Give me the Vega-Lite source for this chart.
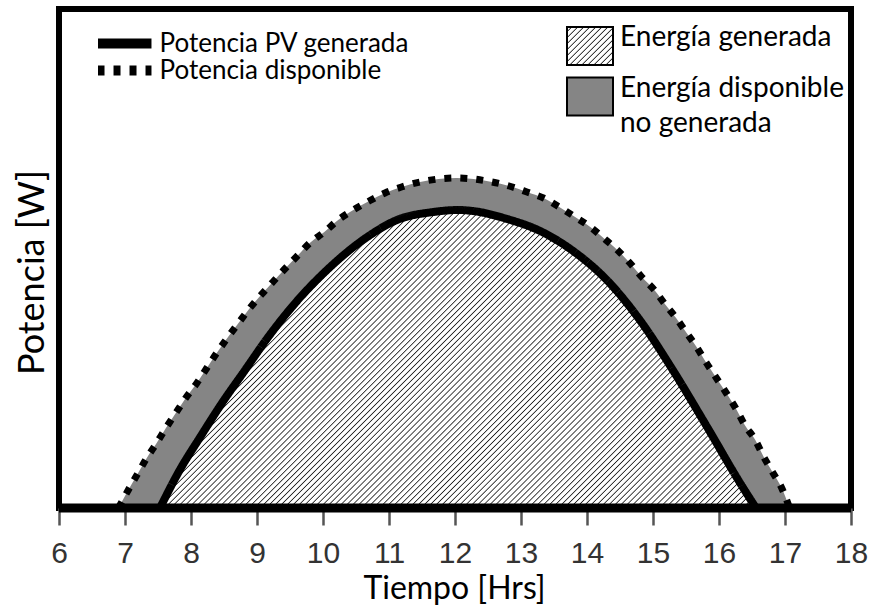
{
"$schema": "https://vega.github.io/schema/vega-lite/v6.json",
"width": 792,
"height": 499,
"autosize": {"type": "none"},
"padding": {"left": 59, "top": 9, "right": 21, "bottom": 99},
"background": "white",
"config": {"view": {"stroke": "#000", "strokeWidth": 6, "fill": "white"}, "style": {"guide-label": {"lineHeight": 35}}},
"datasets": {
"gen": [{"h":7.53,"p":0},{"h":7.83,"p":38},{"h":8.14,"p":71},{"h":8.47,"p":105},{"h":8.82,"p":138},{"h":9.17,"p":171},{"h":9.58,"p":205},{"h":10.06,"p":238},{"h":10.67,"p":271},{"h":11.12,"p":288},{"h":11.67,"p":296},{"h":12.05,"p":298},{"h":12.27,"p":297},{"h":12.79,"p":289},{"h":13.29,"p":277},{"h":13.79,"p":257},{"h":14.3,"p":228},{"h":14.8,"p":188},{"h":15.3,"p":138},{"h":15.82,"p":81},{"h":16.32,"p":25},{"h":16.56,"p":0}],
"avail": [{"h":6.9,"p":0},{"h":7.05,"p":18},{"h":7.19,"p":34},{"h":7.33,"p":50},{"h":7.48,"p":65},{"h":7.62,"p":80},{"h":7.77,"p":95},{"h":7.92,"p":110},{"h":8.09,"p":125},{"h":8.24,"p":140},{"h":8.39,"p":155},{"h":8.55,"p":170},{"h":8.72,"p":185},{"h":8.88,"p":199},{"h":9.06,"p":213},{"h":9.24,"p":226},{"h":9.42,"p":239},{"h":9.61,"p":252},{"h":9.8,"p":265},{"h":10.02,"p":276},{"h":10.23,"p":288},{"h":10.46,"p":298},{"h":10.7,"p":307},{"h":10.94,"p":315},{"h":11.19,"p":321},{"h":11.47,"p":326},{"h":11.75,"p":329},{"h":12.02,"p":330},{"h":12.28,"p":329},{"h":12.56,"p":326},{"h":12.82,"p":322},{"h":13.09,"p":316},{"h":13.34,"p":310},{"h":13.58,"p":301},{"h":13.82,"p":291},{"h":14.05,"p":281},{"h":14.25,"p":270},{"h":14.46,"p":258},{"h":14.65,"p":245},{"h":14.83,"p":231},{"h":15.02,"p":218},{"h":15.18,"p":204},{"h":15.35,"p":190},{"h":15.51,"p":175},{"h":15.67,"p":160},{"h":15.81,"p":145},{"h":15.96,"p":130},{"h":16.11,"p":115},{"h":16.26,"p":99},{"h":16.39,"p":83},{"h":16.55,"p":68},{"h":16.67,"p":52},{"h":16.81,"p":36},{"h":16.95,"p":20},{"h":17.07,"p":0}]
},
"layer": [
{
"data": {"name": "avail"},
"mark": {"type": "area", "interpolate": "monotone", "opacity": 1},
"encoding": {
"x": {"field": "h", "type": "quantitative", "scale": {"domain": [6, 18], "nice": false, "zero": false},
"axis": {"values": [6,7,8,9,10,11,12,13,14,15,16,17,18], "format": "d", "labelFont": "Liberation Sans", "labelFontSize": 30, "labelColor": "#333", "tickColor": "#555", "tickWidth": 2.5, "tickSize": 17, "labelPadding": 13, "domain": false, "grid": false, "labelFlush": false, "labelOverlap": false, "title": "Tiempo [Hrs]", "titleFont": "Lato", "titleFontSize": 32, "titleFontWeight": "normal", "titleColor": "#000", "titleY": 90, "titleX": 395, "titleBaseline": "alphabetic"}},
"y": {"field": "p", "type": "quantitative", "scale": {"domain": [0, 499], "nice": false},
"axis": {"title": "Potencia [W]", "labels": false, "ticks": false, "domain": false, "grid": false, "titleFont": "Lato", "titleFontSize": 36, "titleFontWeight": "normal", "titleColor": "#000", "titleX": -16, "titleY": 263, "titleAngle": 270, "titleBaseline": "alphabetic", "titleAlign": "center"}},
"fill": {"datum": "Energía disponible no generada", "type": "nominal",
"scale": {"domain": ["Energía generada", "Energía disponible no generada"], "range": [{"expr": "{gradient: 'linear', x1: 0, y1: 0, x2: 1.085, y2: 0.9, stops: [{offset: 0, color: '#fff'}, {offset: 0.0429, color: '#fff'}, {offset: 0.0571, color: '#222'}, {offset: 0.0714, color: '#fff'}, {offset: 0.1143, color: '#fff'}, {offset: 0.1286, color: '#222'}, {offset: 0.1429, color: '#fff'}, {offset: 0.1857, color: '#fff'}, {offset: 0.2, color: '#222'}, {offset: 0.2143, color: '#fff'}, {offset: 0.2571, color: '#fff'}, {offset: 0.2714, color: '#222'}, {offset: 0.2857, color: '#fff'}, {offset: 0.3286, color: '#fff'}, {offset: 0.3429, color: '#222'}, {offset: 0.3571, color: '#fff'}, {offset: 0.4, color: '#fff'}, {offset: 0.4143, color: '#222'}, {offset: 0.4286, color: '#fff'}, {offset: 0.4714, color: '#fff'}, {offset: 0.4857, color: '#222'}, {offset: 0.5, color: '#fff'}, {offset: 0.5429, color: '#fff'}, {offset: 0.5571, color: '#222'}, {offset: 0.5714, color: '#fff'}, {offset: 0.6143, color: '#fff'}, {offset: 0.6286, color: '#222'}, {offset: 0.6429, color: '#fff'}, {offset: 0.6857, color: '#fff'}, {offset: 0.7, color: '#222'}, {offset: 0.7143, color: '#fff'}, {offset: 0.7571, color: '#fff'}, {offset: 0.7714, color: '#222'}, {offset: 0.7857, color: '#fff'}, {offset: 0.8286, color: '#fff'}, {offset: 0.8429, color: '#222'}, {offset: 0.8571, color: '#fff'}, {offset: 0.9, color: '#fff'}, {offset: 0.9143, color: '#222'}, {offset: 0.9286, color: '#fff'}, {offset: 0.9714, color: '#fff'}, {offset: 0.9857, color: '#222'}, {offset: 1, color: '#fff'}]}"}, "#858585"]},
"legend": {"orient": "none", "legendX": 508, "legendY": 23, "title": null, "padding": 0, "labelFont": "Lato", "labelFontSize": 28, "labelColor": "#000", "labelOffset": 16, "labelLimit": 400, "labelBaseline": "alphabetic",
"symbolType": "M-4.6,-3.8H4.6V3.8H-4.6Z", "symbolSize": 100, "symbolStrokeWidth": 2, "symbolStrokeColor": "#000", "symbolOffset": 9, "rowPadding": 4.5, "symbolOpacity": 1,
"labelExpr": "datum.label == 'Energía disponible no generada' ? ['Energía disponible', 'no generada'] : datum.label"}
}
}
},
{
"data": {"name": "gen"},
"mark": {"type": "area", "interpolate": "monotone", "opacity": 1,
"fill": {"gradient": "linear", "x1": 0, "y1": 0, "x2": 1.2, "y2": 0.6, "stops": [
{"offset":0,"color":"#fff"},{"offset":0.004,"color":"#fff"},{"offset":0.0053,"color":"#222"},{"offset":0.0067,"color":"#fff"},{"offset":0.0107,"color":"#fff"},{"offset":0.012,"color":"#222"},{"offset":0.0133,"color":"#fff"},{"offset":0.0173,"color":"#fff"},{"offset":0.0187,"color":"#222"},
{"offset":0.02,"color":"#fff"},{"offset":0.024,"color":"#fff"},{"offset":0.0253,"color":"#222"},{"offset":0.0267,"color":"#fff"},{"offset":0.0307,"color":"#fff"},{"offset":0.032,"color":"#222"},{"offset":0.0333,"color":"#fff"},{"offset":0.0373,"color":"#fff"},{"offset":0.0387,"color":"#222"},
{"offset":0.04,"color":"#fff"},{"offset":0.044,"color":"#fff"},{"offset":0.0453,"color":"#222"},{"offset":0.0467,"color":"#fff"},{"offset":0.0507,"color":"#fff"},{"offset":0.052,"color":"#222"},{"offset":0.0533,"color":"#fff"},{"offset":0.0573,"color":"#fff"},{"offset":0.0587,"color":"#222"},
{"offset":0.06,"color":"#fff"},{"offset":0.064,"color":"#fff"},{"offset":0.0653,"color":"#222"},{"offset":0.0667,"color":"#fff"},{"offset":0.0707,"color":"#fff"},{"offset":0.072,"color":"#222"},{"offset":0.0733,"color":"#fff"},{"offset":0.0773,"color":"#fff"},{"offset":0.0787,"color":"#222"},
{"offset":0.08,"color":"#fff"},{"offset":0.084,"color":"#fff"},{"offset":0.0853,"color":"#222"},{"offset":0.0867,"color":"#fff"},{"offset":0.0907,"color":"#fff"},{"offset":0.092,"color":"#222"},{"offset":0.0933,"color":"#fff"},{"offset":0.0973,"color":"#fff"},{"offset":0.0987,"color":"#222"},
{"offset":0.1,"color":"#fff"},{"offset":0.104,"color":"#fff"},{"offset":0.1053,"color":"#222"},{"offset":0.1067,"color":"#fff"},{"offset":0.1107,"color":"#fff"},{"offset":0.112,"color":"#222"},{"offset":0.1133,"color":"#fff"},{"offset":0.1173,"color":"#fff"},{"offset":0.1187,"color":"#222"},
{"offset":0.12,"color":"#fff"},{"offset":0.124,"color":"#fff"},{"offset":0.1253,"color":"#222"},{"offset":0.1267,"color":"#fff"},{"offset":0.1307,"color":"#fff"},{"offset":0.132,"color":"#222"},{"offset":0.1333,"color":"#fff"},{"offset":0.1373,"color":"#fff"},{"offset":0.1387,"color":"#222"},
{"offset":0.14,"color":"#fff"},{"offset":0.144,"color":"#fff"},{"offset":0.1453,"color":"#222"},{"offset":0.1467,"color":"#fff"},{"offset":0.1507,"color":"#fff"},{"offset":0.152,"color":"#222"},{"offset":0.1533,"color":"#fff"},{"offset":0.1573,"color":"#fff"},{"offset":0.1587,"color":"#222"},
{"offset":0.16,"color":"#fff"},{"offset":0.164,"color":"#fff"},{"offset":0.1653,"color":"#222"},{"offset":0.1667,"color":"#fff"},{"offset":0.1707,"color":"#fff"},{"offset":0.172,"color":"#222"},{"offset":0.1733,"color":"#fff"},{"offset":0.1773,"color":"#fff"},{"offset":0.1787,"color":"#222"},
{"offset":0.18,"color":"#fff"},{"offset":0.184,"color":"#fff"},{"offset":0.1853,"color":"#222"},{"offset":0.1867,"color":"#fff"},{"offset":0.1907,"color":"#fff"},{"offset":0.192,"color":"#222"},{"offset":0.1933,"color":"#fff"},{"offset":0.1973,"color":"#fff"},{"offset":0.1987,"color":"#222"},
{"offset":0.2,"color":"#fff"},{"offset":0.204,"color":"#fff"},{"offset":0.2053,"color":"#222"},{"offset":0.2067,"color":"#fff"},{"offset":0.2107,"color":"#fff"},{"offset":0.212,"color":"#222"},{"offset":0.2133,"color":"#fff"},{"offset":0.2173,"color":"#fff"},{"offset":0.2187,"color":"#222"},
{"offset":0.22,"color":"#fff"},{"offset":0.224,"color":"#fff"},{"offset":0.2253,"color":"#222"},{"offset":0.2267,"color":"#fff"},{"offset":0.2307,"color":"#fff"},{"offset":0.232,"color":"#222"},{"offset":0.2333,"color":"#fff"},{"offset":0.2373,"color":"#fff"},{"offset":0.2387,"color":"#222"},
{"offset":0.24,"color":"#fff"},{"offset":0.244,"color":"#fff"},{"offset":0.2453,"color":"#222"},{"offset":0.2467,"color":"#fff"},{"offset":0.2507,"color":"#fff"},{"offset":0.252,"color":"#222"},{"offset":0.2533,"color":"#fff"},{"offset":0.2573,"color":"#fff"},{"offset":0.2587,"color":"#222"},
{"offset":0.26,"color":"#fff"},{"offset":0.264,"color":"#fff"},{"offset":0.2653,"color":"#222"},{"offset":0.2667,"color":"#fff"},{"offset":0.2707,"color":"#fff"},{"offset":0.272,"color":"#222"},{"offset":0.2733,"color":"#fff"},{"offset":0.2773,"color":"#fff"},{"offset":0.2787,"color":"#222"},
{"offset":0.28,"color":"#fff"},{"offset":0.284,"color":"#fff"},{"offset":0.2853,"color":"#222"},{"offset":0.2867,"color":"#fff"},{"offset":0.2907,"color":"#fff"},{"offset":0.292,"color":"#222"},{"offset":0.2933,"color":"#fff"},{"offset":0.2973,"color":"#fff"},{"offset":0.2987,"color":"#222"},
{"offset":0.3,"color":"#fff"},{"offset":0.304,"color":"#fff"},{"offset":0.3053,"color":"#222"},{"offset":0.3067,"color":"#fff"},{"offset":0.3107,"color":"#fff"},{"offset":0.312,"color":"#222"},{"offset":0.3133,"color":"#fff"},{"offset":0.3173,"color":"#fff"},{"offset":0.3187,"color":"#222"},
{"offset":0.32,"color":"#fff"},{"offset":0.324,"color":"#fff"},{"offset":0.3253,"color":"#222"},{"offset":0.3267,"color":"#fff"},{"offset":0.3307,"color":"#fff"},{"offset":0.332,"color":"#222"},{"offset":0.3333,"color":"#fff"},{"offset":0.3373,"color":"#fff"},{"offset":0.3387,"color":"#222"},
{"offset":0.34,"color":"#fff"},{"offset":0.344,"color":"#fff"},{"offset":0.3453,"color":"#222"},{"offset":0.3467,"color":"#fff"},{"offset":0.3507,"color":"#fff"},{"offset":0.352,"color":"#222"},{"offset":0.3533,"color":"#fff"},{"offset":0.3573,"color":"#fff"},{"offset":0.3587,"color":"#222"},
{"offset":0.36,"color":"#fff"},{"offset":0.364,"color":"#fff"},{"offset":0.3653,"color":"#222"},{"offset":0.3667,"color":"#fff"},{"offset":0.3707,"color":"#fff"},{"offset":0.372,"color":"#222"},{"offset":0.3733,"color":"#fff"},{"offset":0.3773,"color":"#fff"},{"offset":0.3787,"color":"#222"},
{"offset":0.38,"color":"#fff"},{"offset":0.384,"color":"#fff"},{"offset":0.3853,"color":"#222"},{"offset":0.3867,"color":"#fff"},{"offset":0.3907,"color":"#fff"},{"offset":0.392,"color":"#222"},{"offset":0.3933,"color":"#fff"},{"offset":0.3973,"color":"#fff"},{"offset":0.3987,"color":"#222"},
{"offset":0.4,"color":"#fff"},{"offset":0.404,"color":"#fff"},{"offset":0.4053,"color":"#222"},{"offset":0.4067,"color":"#fff"},{"offset":0.4107,"color":"#fff"},{"offset":0.412,"color":"#222"},{"offset":0.4133,"color":"#fff"},{"offset":0.4173,"color":"#fff"},{"offset":0.4187,"color":"#222"},
{"offset":0.42,"color":"#fff"},{"offset":0.424,"color":"#fff"},{"offset":0.4253,"color":"#222"},{"offset":0.4267,"color":"#fff"},{"offset":0.4307,"color":"#fff"},{"offset":0.432,"color":"#222"},{"offset":0.4333,"color":"#fff"},{"offset":0.4373,"color":"#fff"},{"offset":0.4387,"color":"#222"},
{"offset":0.44,"color":"#fff"},{"offset":0.444,"color":"#fff"},{"offset":0.4453,"color":"#222"},{"offset":0.4467,"color":"#fff"},{"offset":0.4507,"color":"#fff"},{"offset":0.452,"color":"#222"},{"offset":0.4533,"color":"#fff"},{"offset":0.4573,"color":"#fff"},{"offset":0.4587,"color":"#222"},
{"offset":0.46,"color":"#fff"},{"offset":0.464,"color":"#fff"},{"offset":0.4653,"color":"#222"},{"offset":0.4667,"color":"#fff"},{"offset":0.4707,"color":"#fff"},{"offset":0.472,"color":"#222"},{"offset":0.4733,"color":"#fff"},{"offset":0.4773,"color":"#fff"},{"offset":0.4787,"color":"#222"},
{"offset":0.48,"color":"#fff"},{"offset":0.484,"color":"#fff"},{"offset":0.4853,"color":"#222"},{"offset":0.4867,"color":"#fff"},{"offset":0.4907,"color":"#fff"},{"offset":0.492,"color":"#222"},{"offset":0.4933,"color":"#fff"},{"offset":0.4973,"color":"#fff"},{"offset":0.4987,"color":"#222"},
{"offset":0.5,"color":"#fff"},{"offset":0.504,"color":"#fff"},{"offset":0.5053,"color":"#222"},{"offset":0.5067,"color":"#fff"},{"offset":0.5107,"color":"#fff"},{"offset":0.512,"color":"#222"},{"offset":0.5133,"color":"#fff"},{"offset":0.5173,"color":"#fff"},{"offset":0.5187,"color":"#222"},
{"offset":0.52,"color":"#fff"},{"offset":0.524,"color":"#fff"},{"offset":0.5253,"color":"#222"},{"offset":0.5267,"color":"#fff"},{"offset":0.5307,"color":"#fff"},{"offset":0.532,"color":"#222"},{"offset":0.5333,"color":"#fff"},{"offset":0.5373,"color":"#fff"},{"offset":0.5387,"color":"#222"},
{"offset":0.54,"color":"#fff"},{"offset":0.544,"color":"#fff"},{"offset":0.5453,"color":"#222"},{"offset":0.5467,"color":"#fff"},{"offset":0.5507,"color":"#fff"},{"offset":0.552,"color":"#222"},{"offset":0.5533,"color":"#fff"},{"offset":0.5573,"color":"#fff"},{"offset":0.5587,"color":"#222"},
{"offset":0.56,"color":"#fff"},{"offset":0.564,"color":"#fff"},{"offset":0.5653,"color":"#222"},{"offset":0.5667,"color":"#fff"},{"offset":0.5707,"color":"#fff"},{"offset":0.572,"color":"#222"},{"offset":0.5733,"color":"#fff"},{"offset":0.5773,"color":"#fff"},{"offset":0.5787,"color":"#222"},
{"offset":0.58,"color":"#fff"},{"offset":0.584,"color":"#fff"},{"offset":0.5853,"color":"#222"},{"offset":0.5867,"color":"#fff"},{"offset":0.5907,"color":"#fff"},{"offset":0.592,"color":"#222"},{"offset":0.5933,"color":"#fff"},{"offset":0.5973,"color":"#fff"},{"offset":0.5987,"color":"#222"},
{"offset":0.6,"color":"#fff"},{"offset":0.604,"color":"#fff"},{"offset":0.6053,"color":"#222"},{"offset":0.6067,"color":"#fff"},{"offset":0.6107,"color":"#fff"},{"offset":0.612,"color":"#222"},{"offset":0.6133,"color":"#fff"},{"offset":0.6173,"color":"#fff"},{"offset":0.6187,"color":"#222"},
{"offset":0.62,"color":"#fff"},{"offset":0.624,"color":"#fff"},{"offset":0.6253,"color":"#222"},{"offset":0.6267,"color":"#fff"},{"offset":0.6307,"color":"#fff"},{"offset":0.632,"color":"#222"},{"offset":0.6333,"color":"#fff"},{"offset":0.6373,"color":"#fff"},{"offset":0.6387,"color":"#222"},
{"offset":0.64,"color":"#fff"},{"offset":0.644,"color":"#fff"},{"offset":0.6453,"color":"#222"},{"offset":0.6467,"color":"#fff"},{"offset":0.6507,"color":"#fff"},{"offset":0.652,"color":"#222"},{"offset":0.6533,"color":"#fff"},{"offset":0.6573,"color":"#fff"},{"offset":0.6587,"color":"#222"},
{"offset":0.66,"color":"#fff"},{"offset":0.664,"color":"#fff"},{"offset":0.6653,"color":"#222"},{"offset":0.6667,"color":"#fff"},{"offset":0.6707,"color":"#fff"},{"offset":0.672,"color":"#222"},{"offset":0.6733,"color":"#fff"},{"offset":0.6773,"color":"#fff"},{"offset":0.6787,"color":"#222"},
{"offset":0.68,"color":"#fff"},{"offset":0.684,"color":"#fff"},{"offset":0.6853,"color":"#222"},{"offset":0.6867,"color":"#fff"},{"offset":0.6907,"color":"#fff"},{"offset":0.692,"color":"#222"},{"offset":0.6933,"color":"#fff"},{"offset":0.6973,"color":"#fff"},{"offset":0.6987,"color":"#222"},
{"offset":0.7,"color":"#fff"},{"offset":0.704,"color":"#fff"},{"offset":0.7053,"color":"#222"},{"offset":0.7067,"color":"#fff"},{"offset":0.7107,"color":"#fff"},{"offset":0.712,"color":"#222"},{"offset":0.7133,"color":"#fff"},{"offset":0.7173,"color":"#fff"},{"offset":0.7187,"color":"#222"},
{"offset":0.72,"color":"#fff"},{"offset":0.724,"color":"#fff"},{"offset":0.7253,"color":"#222"},{"offset":0.7267,"color":"#fff"},{"offset":0.7307,"color":"#fff"},{"offset":0.732,"color":"#222"},{"offset":0.7333,"color":"#fff"},{"offset":0.7373,"color":"#fff"},{"offset":0.7387,"color":"#222"},
{"offset":0.74,"color":"#fff"},{"offset":0.744,"color":"#fff"},{"offset":0.7453,"color":"#222"},{"offset":0.7467,"color":"#fff"},{"offset":0.7507,"color":"#fff"},{"offset":0.752,"color":"#222"},{"offset":0.7533,"color":"#fff"},{"offset":0.7573,"color":"#fff"},{"offset":0.7587,"color":"#222"},
{"offset":0.76,"color":"#fff"},{"offset":0.764,"color":"#fff"},{"offset":0.7653,"color":"#222"},{"offset":0.7667,"color":"#fff"},{"offset":0.7707,"color":"#fff"},{"offset":0.772,"color":"#222"},{"offset":0.7733,"color":"#fff"},{"offset":0.7773,"color":"#fff"},{"offset":0.7787,"color":"#222"},
{"offset":0.78,"color":"#fff"},{"offset":0.784,"color":"#fff"},{"offset":0.7853,"color":"#222"},{"offset":0.7867,"color":"#fff"},{"offset":0.7907,"color":"#fff"},{"offset":0.792,"color":"#222"},{"offset":0.7933,"color":"#fff"},{"offset":0.7973,"color":"#fff"},{"offset":0.7987,"color":"#222"},
{"offset":0.8,"color":"#fff"},{"offset":0.804,"color":"#fff"},{"offset":0.8053,"color":"#222"},{"offset":0.8067,"color":"#fff"},{"offset":0.8107,"color":"#fff"},{"offset":0.812,"color":"#222"},{"offset":0.8133,"color":"#fff"},{"offset":0.8173,"color":"#fff"},{"offset":0.8187,"color":"#222"},
{"offset":0.82,"color":"#fff"},{"offset":0.824,"color":"#fff"},{"offset":0.8253,"color":"#222"},{"offset":0.8267,"color":"#fff"},{"offset":0.8307,"color":"#fff"},{"offset":0.832,"color":"#222"},{"offset":0.8333,"color":"#fff"},{"offset":0.8373,"color":"#fff"},{"offset":0.8387,"color":"#222"},
{"offset":0.84,"color":"#fff"},{"offset":0.844,"color":"#fff"},{"offset":0.8453,"color":"#222"},{"offset":0.8467,"color":"#fff"},{"offset":0.8507,"color":"#fff"},{"offset":0.852,"color":"#222"},{"offset":0.8533,"color":"#fff"},{"offset":0.8573,"color":"#fff"},{"offset":0.8587,"color":"#222"},
{"offset":0.86,"color":"#fff"},{"offset":0.864,"color":"#fff"},{"offset":0.8653,"color":"#222"},{"offset":0.8667,"color":"#fff"},{"offset":0.8707,"color":"#fff"},{"offset":0.872,"color":"#222"},{"offset":0.8733,"color":"#fff"},{"offset":0.8773,"color":"#fff"},{"offset":0.8787,"color":"#222"},
{"offset":0.88,"color":"#fff"},{"offset":0.884,"color":"#fff"},{"offset":0.8853,"color":"#222"},{"offset":0.8867,"color":"#fff"},{"offset":0.8907,"color":"#fff"},{"offset":0.892,"color":"#222"},{"offset":0.8933,"color":"#fff"},{"offset":0.8973,"color":"#fff"},{"offset":0.8987,"color":"#222"},
{"offset":0.9,"color":"#fff"},{"offset":0.904,"color":"#fff"},{"offset":0.9053,"color":"#222"},{"offset":0.9067,"color":"#fff"},{"offset":0.9107,"color":"#fff"},{"offset":0.912,"color":"#222"},{"offset":0.9133,"color":"#fff"},{"offset":0.9173,"color":"#fff"},{"offset":0.9187,"color":"#222"},
{"offset":0.92,"color":"#fff"},{"offset":0.924,"color":"#fff"},{"offset":0.9253,"color":"#222"},{"offset":0.9267,"color":"#fff"},{"offset":0.9307,"color":"#fff"},{"offset":0.932,"color":"#222"},{"offset":0.9333,"color":"#fff"},{"offset":0.9373,"color":"#fff"},{"offset":0.9387,"color":"#222"},
{"offset":0.94,"color":"#fff"},{"offset":0.944,"color":"#fff"},{"offset":0.9453,"color":"#222"},{"offset":0.9467,"color":"#fff"},{"offset":0.9507,"color":"#fff"},{"offset":0.952,"color":"#222"},{"offset":0.9533,"color":"#fff"},{"offset":0.9573,"color":"#fff"},{"offset":0.9587,"color":"#222"},
{"offset":0.96,"color":"#fff"},{"offset":0.964,"color":"#fff"},{"offset":0.9653,"color":"#222"},{"offset":0.9667,"color":"#fff"},{"offset":0.9707,"color":"#fff"},{"offset":0.972,"color":"#222"},{"offset":0.9733,"color":"#fff"},{"offset":0.9773,"color":"#fff"},{"offset":0.9787,"color":"#222"},
{"offset":0.98,"color":"#fff"},{"offset":0.984,"color":"#fff"},{"offset":0.9853,"color":"#222"},{"offset":0.9867,"color":"#fff"},{"offset":0.9907,"color":"#fff"},{"offset":0.992,"color":"#222"},{"offset":0.9933,"color":"#fff"},{"offset":0.9973,"color":"#fff"},{"offset":0.9987,"color":"#222"},
{"offset":1,"color":"#fff"}]}},
"encoding": {
"x": {"field": "h", "type": "quantitative"},
"y": {"field": "p", "type": "quantitative"}
}
},
{
"data": {"values": [{}]},
"mark": {"type": "rule", "color": "#000", "strokeWidth": 9},
"encoding": {"y": {"datum": 0, "type": "quantitative"}}
},
{
"data": {"name": "gen"},
"mark": {"type": "line", "interpolate": "monotone", "color": "#000", "strokeWidth": 8, "opacity": 1},
"encoding": {
"x": {"field": "h", "type": "quantitative"},
"y": {"field": "p", "type": "quantitative"},
"strokeDash": {"datum": "Potencia PV generada", "type": "nominal",
"scale": {"domain": ["Potencia PV generada", "Potencia disponible"], "range": [[1, 0], [7, 9]]},
"legend": {"orient": "none", "legendX": 39, "legendY": 21.25, "title": null, "padding": 0, "labelFont": "Lato", "labelFontSize": 26, "labelColor": "#000", "labelOffset": 22, "labelLimit": 400,
"symbolType": "M-4,0H4", "symbolSize": 182, "symbolStrokeWidth": 10, "symbolStrokeColor": "#000", "symbolOffset": 13.5, "rowPadding": 0, "clipHeight": 26.5, "symbolOpacity": 1}
}
}
},
{
"data": {"name": "avail"},
"mark": {"type": "line", "interpolate": "monotone", "color": "#000", "strokeWidth": 7, "strokeCap": "butt", "opacity": 1},
"encoding": {
"x": {"field": "h", "type": "quantitative"},
"y": {"field": "p", "type": "quantitative"},
"strokeDash": {"datum": "Potencia disponible", "type": "nominal"}
}
}
]
}
